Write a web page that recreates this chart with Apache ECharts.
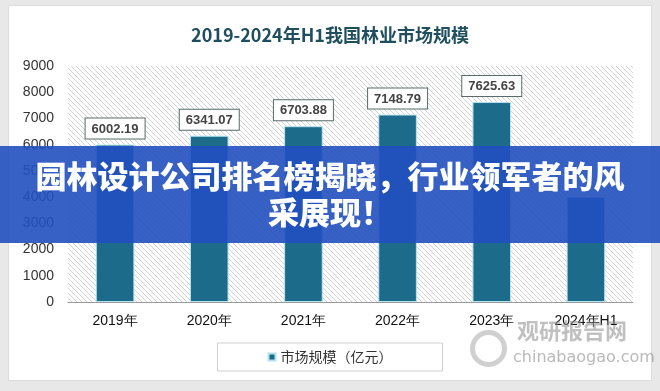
<!DOCTYPE html>
<html><head><meta charset="utf-8">
<script src="https://cdn.jsdelivr.net/npm/echarts@6/dist/echarts.min.js"></script>
<style>html,body{margin:0;padding:0;background:#e8e8e8;}#c{width:660px;height:391px;}</style>
</head><body><div id="c"></div>
<script>
const titleText = '2019-2024年H1我国林业市场规模';
const categories = ['2019年','2020年','2021年','2022年','2023年','2024年H1'];
const values = [6002.19, 6341.07, 6703.88, 7148.79, 7625.63, 4010];
const showLabel = [true, true, true, true, true, false];
const yTicks = [0,1000,2000,3000,4000,5000,6000,7000,8000,9000];
const seriesName = '市场规模（亿元）';
const bannerLines = ['园林设计公司排名榜揭晓，行业领军者的风','采展现！'];

const pc = document.createElement('canvas');
pc.width = 5; pc.height = 5;
const g = pc.getContext('2d');
g.fillStyle = '#ffffff'; g.fillRect(0,0,5,5);
g.strokeStyle = '#d4d4d4'; g.lineWidth = 1;
g.beginPath(); g.moveTo(-1,-1); g.lineTo(6,6); g.stroke();
g.beginPath(); g.moveTo(-1,4); g.lineTo(1,6); g.stroke();
g.beginPath(); g.moveTo(4,-1); g.lineTo(6,1); g.stroke();

const chart = echarts.init(document.getElementById('c'));
chart.setOption({
  backgroundColor: '#e8e8e8',
  animation: false,
  title: {
    text: titleText, left: 'center', top: 21,
    textStyle: {fontFamily: 'Noto Sans CJK SC', fontSize: 18, fontWeight: 'bold', color: '#1f4f5f'}
  },
  legend: {
    data: [{name: seriesName, icon: 'rect'}],
    bottom: 20, left: 'center',
    itemWidth: 7, itemHeight: 7, itemGap: 5,
    borderColor: '#cfcfcf', borderWidth: 1, padding: [7, 50],
    backgroundColor: '#fff',
    textStyle: {fontFamily: 'Noto Sans CJK SC', fontSize: 14, color: '#333'}
  },
  grid: {
    left: 68, right: 27, top: 66, bottom: 89, show: true, borderWidth: 0,
    backgroundColor: {image: pc, repeat: 'repeat'}
  },
  xAxis: {
    type: 'category', data: categories,
    axisLine: {lineStyle: {color: '#9a9a9a'}},
    axisTick: {show: false},
    axisLabel: {fontFamily: 'Liberation Sans', fontSize: 14, color: '#111', margin: 12}
  },
  yAxis: {
    type: 'value', min: 0, max: 9000, interval: 1000,
    splitLine: {show: false},
    axisLine: {show: false}, axisTick: {show: false},
    axisLabel: {fontFamily: 'Liberation Sans', fontSize: 14, color: '#333', margin: 14, formatter: v => String(v)}
  },
  series: [{
    name: seriesName, type: 'bar', barWidth: '41%',
    data: values.map((v, i) => ({value: v, label: {show: showLabel[i]}})),
    itemStyle: {color: '#1d6b8b', borderColor: '#b5e3ee', borderWidth: 1},
    label: {
      show: true, position: 'top', distance: 6,
      formatter: p => p.value.toFixed(2),
      fontFamily: 'Liberation Sans', fontSize: 13, fontWeight: 'bold', color: '#444',
      backgroundColor: '#fff', borderColor: '#5a6a6a', borderWidth: 1, padding: [4, 6, 3, 6]
    }
  }],
  graphic: [
    {type: 'rect', left: 8, top: 5, shape: {width: 643, height: 375}, style: {fill: '#ffffff', stroke: '#dcdcdc'}, z: -10, silent: true},
    {type: 'rect', left: 0, top: 146, shape: {width: 660, height: 97}, style: {fill: 'rgba(34,80,192,0.9)'}, z: 100},
    {type: 'text', left: 'center', top: 161, z: 101, style: {text: bannerLines[0], fill: '#fff', font: '900 31px "Noto Sans CJK SC"'}},
    {type: 'text', left: 'center', top: 197, z: 101, style: {text: bannerLines[1], fill: '#fff', font: '900 31px "Noto Sans CJK SC"'}},
    {type: 'circle', left: 470, top: 330, shape: {r: 16}, style: {fill: 'none', stroke: 'rgba(150,150,150,0.45)', lineWidth: 5}, z: 90},
    {type: 'text', left: 517, top: 320, z: 90, style: {text: '观研报告网', fill: 'rgba(140,140,140,0.55)', font: 'bold 22px "Noto Sans CJK SC"'}},
    {type: 'text', left: 513, top: 350, z: 90, style: {text: 'chinabaogao.com', fill: 'rgba(140,140,140,0.6)', font: '16px "DejaVu Sans"'}}
  ]
});
</script></body></html>
